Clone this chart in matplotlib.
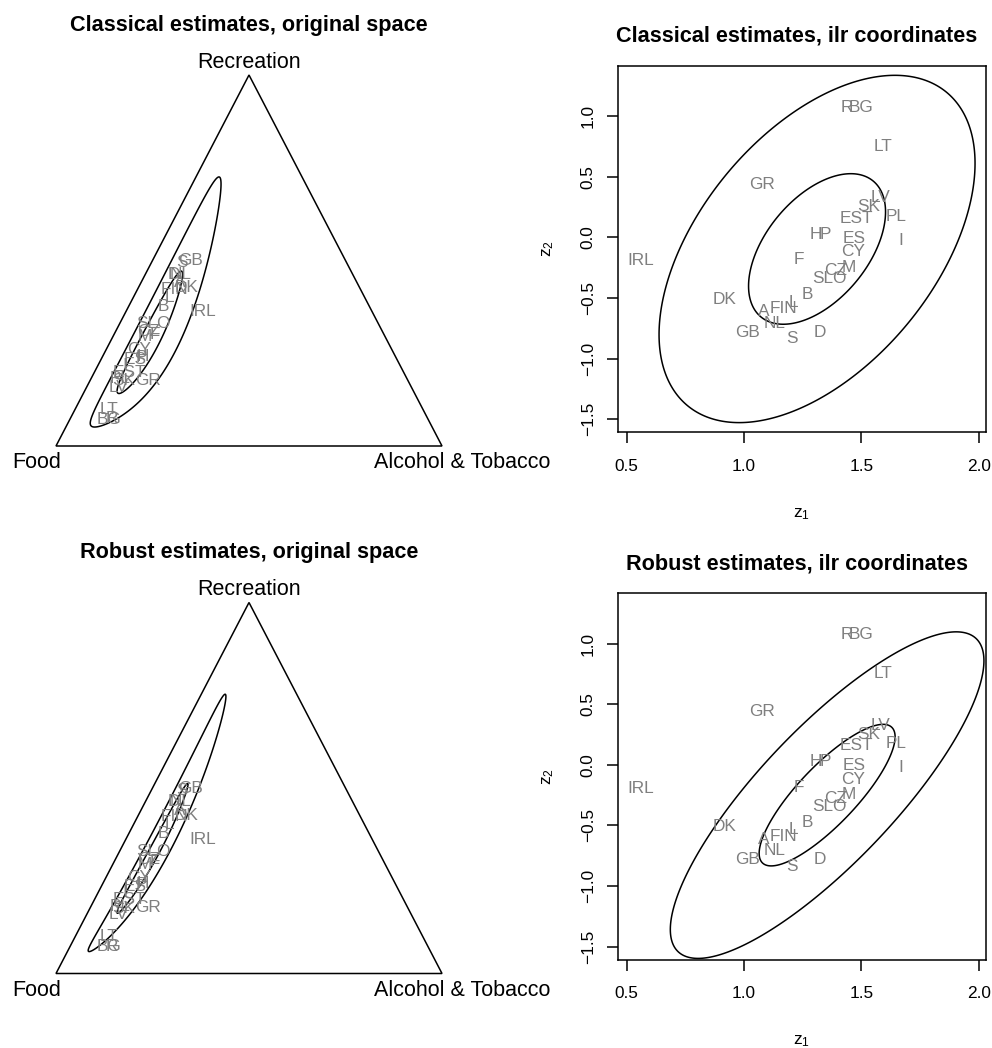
import numpy as np
import matplotlib
matplotlib.use("Agg")
import matplotlib.pyplot as plt
from matplotlib.patches import Polygon

plt.rcParams['font.family'] = ['Liberation Sans', 'DejaVu Sans']

# ---------------- data (ilr coordinates) ----------------
countries = ["IRL", "R", "BG", "LT", "GR", "LV", "SK", "EST", "PL", "H", "P",
             "ES", "I", "CY", "F", "M", "CZ", "SLO", "B", "L", "A", "FIN",
             "DK", "NL", "GB", "S", "D"]
z1 = [0.56, 1.437, 1.498, 1.594, 1.075, 1.582, 1.530, 1.477, 1.648, 1.307, 1.345,
      1.469, 1.667, 1.466, 1.234, 1.445, 1.388, 1.362, 1.271, 1.212, 1.082, 1.168,
      0.915, 1.128, 1.014, 1.203, 1.321]
z2 = [-0.179, 1.085, 1.085, 0.761, 0.450, 0.340, 0.266, 0.170, 0.184, 0.038, 0.038,
      0.005, -0.014, -0.105, -0.173, -0.234, -0.264, -0.330, -0.462, -0.523, -0.600, -0.577,
      -0.498, -0.696, -0.770, -0.824, -0.770]
parts = ["Food", "Alcohol & Tobacco", "Recreation"]
levels = [0.5, 0.975]
robust_center = [1.354, -0.250]
robust_cov = [[0.0605, 0.1003], [0.1003, 0.2456]]
xticks = [0.5, 1.0, 1.5, 2.0]
yticks = [-1.5, -1.0, -0.5, 0.0, 0.5, 1.0]
titles = ["Classical estimates, original space", "Classical estimates, ilr coordinates",
          "Robust estimates, original space", "Robust estimates, ilr coordinates"]

Z = np.column_stack([z1, z2])
classical_center = Z.mean(axis=0)
classical_cov = np.cov(Z, rowvar=False)

W, H = 992, 1048
fig = plt.figure(figsize=(W / 100, H / 100), dpi=100)
GREY = "#7f7f7f"
S3 = np.sqrt(3) / 2


def rect(left, top, right, bottom):
    return [left / W, 1 - bottom / H, (right - left) / W, (bottom - top) / H]


def ftext(x, y, s, **kw):
    fig.text(x / W, 1 - y / H, s, **kw)


def ellipse(center, cov, level, n=600):
    r = np.sqrt(-2 * np.log(1 - level))
    L = np.linalg.cholesky(np.asarray(cov))
    t = np.linspace(0, 2 * np.pi, n, endpoint=False)
    circ = np.vstack([np.cos(t), np.sin(t)])
    return (np.asarray(center)[:, None] + r * L @ circ).T


def ilr_inv(a, b):
    a = np.asarray(a); b = np.asarray(b)
    lnF = (np.sqrt(6) * b + np.sqrt(2) * a) / 2
    lnA = (np.sqrt(6) * b - np.sqrt(2) * a) / 2
    comp = np.column_stack([np.exp(lnF), np.exp(lnA), np.ones_like(a)])
    return comp / comp.sum(axis=1, keepdims=True)


def tern(comp):
    return comp[:, 1] + comp[:, 2] / 2, comp[:, 2] * S3


def ternary_panel(off, center, cov, title):
    ax = fig.add_axes(rect(56, 75 + off, 442, 446 + off))
    ax.set_xlim(0, 1)
    ax.set_ylim(0, S3)
    ax.axis("off")
    ax.add_patch(Polygon([[0, 0], [1, 0], [0.5, S3]], closed=True, fill=False,
                         edgecolor="black", lw=1.1, clip_on=False))
    tx, ty = tern(ilr_inv(z1, z2))
    for name, x, y in zip(countries, tx, ty):
        ax.text(x, y, name, ha="center", va="center_baseline", color=GREY,
                fontsize=12.4, clip_on=False)
    for lv in levels:
        e = ellipse(center, cov, lv)
        ex, ey = tern(ilr_inv(e[:, 0], e[:, 1]))
        ax.add_patch(Polygon(np.column_stack([ex, ey]), closed=True, fill=False,
                             edgecolor="black", lw=1.1, clip_on=False))
    ftext(248.7, 30.7 + off, title, ha="center", va="baseline", fontsize=15.6,
          fontweight="bold")
    ftext(248.7, 67.7 + off, parts[2], ha="center", va="baseline", fontsize=15.5)
    ftext(36.5, 468.5 + off, parts[0], ha="center", va="baseline", fontsize=15.5)
    ftext(462, 468.5 + off, parts[1], ha="center", va="baseline", fontsize=15.5)


def ilr_panel(off, center, cov, title):
    ax = fig.add_axes(rect(617.5, 65.7 + off, 985.5, 432.3 + off))
    ax.set_xlim(0.4608, 2.0288)
    ax.set_ylim(-1.6076, 1.4147)
    for sp in ax.spines.values():
        sp.set_linewidth(1.1)
    ax.set_xticks(xticks)
    ax.set_xticklabels([f"{v:.1f}" for v in xticks])
    ax.set_yticks(yticks)
    ax.set_yticklabels([f"{v:.1f}".replace("-", "\u2212") for v in yticks],
                       rotation=90, va="center")
    ax.tick_params(axis="both", direction="out", length=7.9, width=1.1,
                   labelsize=12.4)
    ax.tick_params(axis="x", pad=11)
    ax.tick_params(axis="y", pad=7.7)
    for name, x, y in zip(countries, z1, z2):
        ax.text(x, y, name, ha="center", va="center_baseline", color=GREY,
                fontsize=12.4)
    for lv in levels:
        e = ellipse(center, cov, lv)
        ax.add_patch(Polygon(e, closed=True, fill=False, edgecolor="black", lw=1.1))
    ftext(797, 41.7 + off, title, ha="center", va="baseline", fontsize=15.6,
          fontweight="bold")
    ftext(801.5, 517 + off, r"$\mathregular{z_1}$", ha="center", va="baseline",
          fontsize=12.4)
    ftext(548, 249 + off, r"$\mathregular{z_2}$", ha="center", va="center",
          rotation=90, fontsize=12.4)


OFF = 527.5
ternary_panel(0, classical_center, classical_cov, titles[0])
ilr_panel(0, classical_center, classical_cov, titles[1])
ternary_panel(OFF, robust_center, robust_cov, titles[2])
ilr_panel(OFF, robust_center, robust_cov, titles[3])

fig.savefig("out.png", dpi=100, facecolor="white")
